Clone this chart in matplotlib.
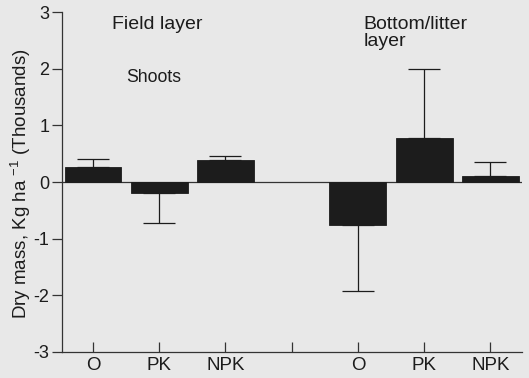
import matplotlib
matplotlib.use("Agg")
import matplotlib.pyplot as plt
import numpy as np

plt.rcParams['font.family'] = ['Liberation Sans', 'DejaVu Sans']
plt.rcParams['mathtext.fontset'] = 'custom'
plt.rcParams['mathtext.rm'] = 'Liberation Sans'
plt.rcParams['mathtext.it'] = 'Liberation Sans'

treatments = ['O', 'PK', 'NPK']
field_vals = [0.26, -0.19, 0.39]
field_err = [0.15, 0.54, 0.07]
bottom_vals = [-0.76, 0.77, 0.10]
bottom_err = [1.16, 1.23, 0.26]
yticks = [-3, -2, -1, 0, 1, 2, 3]

bg = '#e8e8e8'
ink = '#1c1c1c'

fig = plt.figure(figsize=(5.29, 3.78), dpi=100, facecolor=bg)
ax = fig.add_axes([0.117, 0.069, 0.87, 0.899], facecolor=bg)

field_x = np.arange(1, 4)
bottom_x = np.arange(5, 8)

def draw(xs, vals, errs):
    vals = np.array(vals)
    errs = np.array(errs)
    ax.bar(xs, vals, width=0.86, color=ink, edgecolor=ink, linewidth=0.6, zorder=3)
    lower = np.where(vals < 0, errs, 0)
    upper = np.where(vals >= 0, errs, 0)
    ax.errorbar(xs, vals, yerr=[lower, upper], fmt='none', ecolor=ink,
                elinewidth=0.9, capsize=11.5, capthick=0.9, zorder=2)

draw(field_x, field_vals, field_err)
draw(bottom_x, bottom_vals, bottom_err)

ax.axhline(0, color='#333333', linewidth=0.9, zorder=1)

ax.set_xlim(0.53, 7.48)
ax.set_ylim(-3, 3)
ax.set_yticks(yticks)
ax.set_yticklabels([str(v) for v in yticks])
ax.set_xticks(range(1, 8))
ax.set_xticklabels(treatments + [''] + treatments)

for s in ['top', 'right']:
    ax.spines[s].set_visible(False)
for s in ['left', 'bottom']:
    ax.spines[s].set_color('#333333')
    ax.spines[s].set_linewidth(0.9)

ax.tick_params(axis='y', direction='out', length=7, width=0.9, labelsize=13, colors='#333333', labelcolor=ink, pad=2)
ax.tick_params(axis='x', direction='in', length=7, width=0.9, labelsize=13.5, colors='#333333', labelcolor=ink, pad=4)

ax.text(1.29, 2.71, 'Field layer', fontsize=14, color=ink, va='baseline', ha='left')
ax.text(1.50, 1.77, 'Shoots', fontsize=12.7, color=ink, va='baseline', ha='left')
ax.text(5.09, 2.71, 'Bottom/litter', fontsize=14, color=ink, va='baseline', ha='left')
ax.text(5.09, 2.40, 'layer', fontsize=14, color=ink, va='baseline', ha='left')

fig.text(20.5/529, 1 - 184/378, r'Dry mass, Kg ha $^{-1}$ (Thousands)', rotation=90,
         fontsize=13.5, color=ink, va='center', ha='center')

fig.savefig('out.png', dpi=100, facecolor=bg)
